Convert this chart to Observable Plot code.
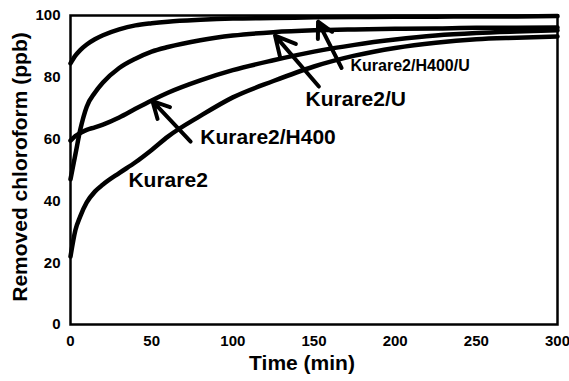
<!DOCTYPE html>
<html>
<head>
<meta charset="utf-8">
<script src="https://cdn.jsdelivr.net/npm/d3@7"></script>
<script src="https://cdn.jsdelivr.net/npm/@observablehq/plot@0.6"></script>
<style>
  html, body { margin: 0; padding: 0; background: white; }
</style>
</head>
<body>
<div id="chart"></div>
<script>
const time = [0, 3, 6, 10, 15, 20, 30, 40, 50, 60, 80, 100, 125, 150, 175, 200, 225, 250, 275, 300];
const kurare2H400U = [84.5, 87, 88.8, 90.6, 92.3, 93.6, 95.5, 96.8, 97.5, 98, 98.6, 99, 99.2, 99.4, 99.5, 99.6, 99.6, 99.7, 99.7, 99.8];
const kurare2U     = [47, 55, 63, 70.5, 75, 78.3, 83, 86, 88.3, 89.8, 92, 93.5, 94.6, 95.2, 95.5, 95.7, 95.8, 96, 96, 96.1];
const kurare2H400  = [59.5, 61, 62, 63, 63.8, 64.7, 67, 69.8, 72.5, 75, 79, 82.3, 85.5, 88.3, 90.5, 92.2, 93.5, 94.3, 94.8, 95.2];
const kurare2      = [22, 30.5, 35, 39.5, 43, 45.3, 49, 52.5, 56.5, 60.8, 67.5, 73.5, 78.8, 83.5, 87, 89.5, 91.2, 92.3, 92.8, 93.2];

const seriesNames = ["Kurare2/H400/U", "Kurare2/U", "Kurare2/H400", "Kurare2"];
const seriesValues = [kurare2H400U, kurare2U, kurare2H400, kurare2];

const xTicks = [0, 50, 100, 150, 200, 250, 300];
const yTicks = [0, 20, 40, 60, 80, 100];

// annotation arrows (data units): tail -> head
const arrows = [
  {name: "Kurare2/H400/U", x1: 167, y1: 83, x2: 152.5, y2: 98},
  {name: "Kurare2/U", x1: 153, y1: 77, x2: 126, y2: 93.5},
  {name: "Kurare2/H400", x1: 74, y1: 59.2, x2: 50.5, y2: 72.3}
];
// labels (data units, text starts at x)
const labels = [
  {name: "Kurare2/H400/U", x: 172.5, y: 83.8, size: 16},
  {name: "Kurare2/U", x: 144.8, y: 73, size: 21},
  {name: "Kurare2/H400", x: 80, y: 60.7, size: 21},
  {name: "Kurare2", x: 35.7, y: 46.8, size: 21}
];

const rows = [];
seriesNames.forEach((s, i) => {
  time.forEach((t, j) => rows.push({series: s, time: t, value: seriesValues[i][j]}));
});

const font = "Liberation Sans, Arial, Helvetica, sans-serif";

const chart = Plot.plot({
  width: 569,
  height: 381,
  marginLeft: 70,
  marginRight: 12,
  marginTop: 15,
  marginBottom: 57,
  style: {fontFamily: font, fontSize: "15px", fontWeight: "bold", background: "white", color: "black"},
  x: {domain: [0, 300]},
  y: {domain: [0, 100]},
  marks: [
    Plot.axisX({ticks: xTicks, tickSize: 0, tickPadding: 11, label: null, fontSize: 15}),
    Plot.axisY({ticks: yTicks, tickSize: 0, tickPadding: 10, label: null, fontSize: 15}),
    Plot.frame({stroke: "black", strokeWidth: 2.5}),
    Plot.line(rows, {x: "time", y: "value", z: "series", stroke: "black", strokeWidth: 4.5, curve: "monotone-x", strokeLinejoin: "round", strokeLinecap: "round"}),
    Plot.arrow(arrows, {x1: "x1", y1: "y1", x2: "x2", y2: "y2", stroke: "black", strokeWidth: 4, headLength: 15, headAngle: 55}),
    Plot.text(labels, {x: "x", y: "y", text: "name", textAnchor: "start", fontSize: d => d.size, fontWeight: "bold", fill: "black"}),
    Plot.text(["Removed chloroform (ppb)"], {frameAnchor: "left", textAnchor: "middle", dx: -50, dy: -3, rotate: -90, fontSize: 21, fontWeight: "bold", fill: "black"}),
    Plot.text(["Time (min)"], {frameAnchor: "bottom", textAnchor: "middle", dx: -12, dy: 45, fontSize: 21, fontWeight: "bold", fill: "black"})
  ]
});
document.getElementById("chart").appendChild(chart);
</script>
</body>
</html>
